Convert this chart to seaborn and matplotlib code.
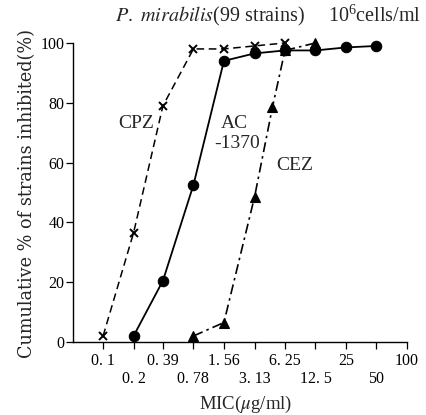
import matplotlib
matplotlib.use("Agg")
import matplotlib.pyplot as plt
import seaborn as sns
import pandas as pd

# MIC dilution steps (ug/ml) and their printed labels
mic_ticks = [0.1, 0.2, 0.39, 0.78, 1.56, 3.13, 6.25, 12.5, 25, 50, 100]
tick_labels = ["0. 1", "0. 2", "0. 39", "0. 78", "1. 56", "3. 13",
               "6. 25", "12. 5", "25", "50", "100"]
y_ticks = [0, 20, 40, 60, 80, 100]

# cumulative % of strains inhibited
cpz_mic = [0.1, 0.2, 0.39, 0.78, 1.56, 3.13, 6.25]
cpz_pct = [2, 36.5, 79, 98, 98, 99, 100]

ac_mic = [0.2, 0.39, 0.78, 1.56, 3.13, 6.25, 12.5, 25, 50]
ac_pct = [2, 20.5, 52.5, 94, 96.5, 97.5, 97.5, 98.5, 99]

cez_mic = [0.78, 1.56, 3.13, 4.7, 6.25, 12.5]
cez_pct = [2, 6.5, 48.5, 78.5, 97.5, 100]

sns.set_style("ticks")
plt.rcParams["font.family"] = ["Liberation Serif", "DejaVu Serif"]
plt.rcParams["mathtext.fontset"] = "stix"

fig = plt.figure(figsize=(4.27, 4.15), dpi=100)
ax = fig.add_axes([0.170, 0.176, 0.783, 0.7205])
ax.set_xscale("log", base=2)

cez = pd.DataFrame({"mic": cez_mic, "pct": cez_pct})
cpz = pd.DataFrame({"mic": cpz_mic, "pct": cpz_pct})
ac = pd.DataFrame({"mic": ac_mic, "pct": ac_pct})

sns.lineplot(data=cez, x="mic", y="pct", ax=ax, color="black", lw=1.2,
             marker="^", markersize=7, mec="black", mew=0.8, clip_on=False)
ax.lines[-1].set_dashes([6, 2.5, 1.5, 2.5])
sns.lineplot(data=cpz, x="mic", y="pct", ax=ax, color="black", lw=1.1,
             marker="x", markersize=6, mec="black", mew=1.4, clip_on=False)
ax.lines[-1].set_dashes([5, 3])
sns.lineplot(data=ac, x="mic", y="pct", ax=ax, color="black", lw=1.3,
             marker="o", markersize=7.5, mec="black", mew=0.8, clip_on=False)

ax.set_xlim(0.05, 100)
ax.set_ylim(0, 100)
ax.set_xticks(mic_ticks)
ax.set_xticklabels([lab if i % 2 == 0 else "\n" + lab
                    for i, lab in enumerate(tick_labels)], linespacing=1.15)
ax.xaxis.set_minor_locator(matplotlib.ticker.NullLocator())
ax.set_yticks(y_ticks)
ax.tick_params(axis="both", direction="out", length=5, width=0.9,
               labelsize=11.5, color="black", labelcolor="black")
ax.tick_params(axis="y", pad=1)
ax.tick_params(axis="x", pad=3)
sns.despine(ax=ax)
for s in ["left", "bottom"]:
    ax.spines[s].set_linewidth(1.0)
    ax.spines[s].set_color("black")

ax.set_xlabel(r"MIC($\mu$g/ml)", fontsize=13.5)
ax.set_ylabel("Cumulative % of strains inhibited(%)", fontsize=12.7,
              family="DejaVu Serif")
ax.xaxis.set_label_coords(0.519, -0.172)
ax.yaxis.set_label_coords(-0.108, 0.495)

ax.text(0.21, 73, "CPZ", fontsize=14, ha="center", va="center")
ax.text(1.45, 73, "AC", fontsize=14, ha="left", va="center")
ax.text(1.24, 66.4, "-1370", fontsize=14, ha="left", va="center")
ax.text(5.1, 59, "CEZ", fontsize=14, ha="left", va="center")

fig.text(115 / 427, 1 - 16 / 415, r"$\mathit{P.\ mirabilis}$(99 strains)",
         fontsize=14.5, ha="left", va="center")
fig.text(328 / 427, 1 - 16 / 415, r"$\mathregular{10^6}$cells/ml",
         fontsize=14.5, ha="left", va="center")

fig.savefig("out.png", dpi=100)
